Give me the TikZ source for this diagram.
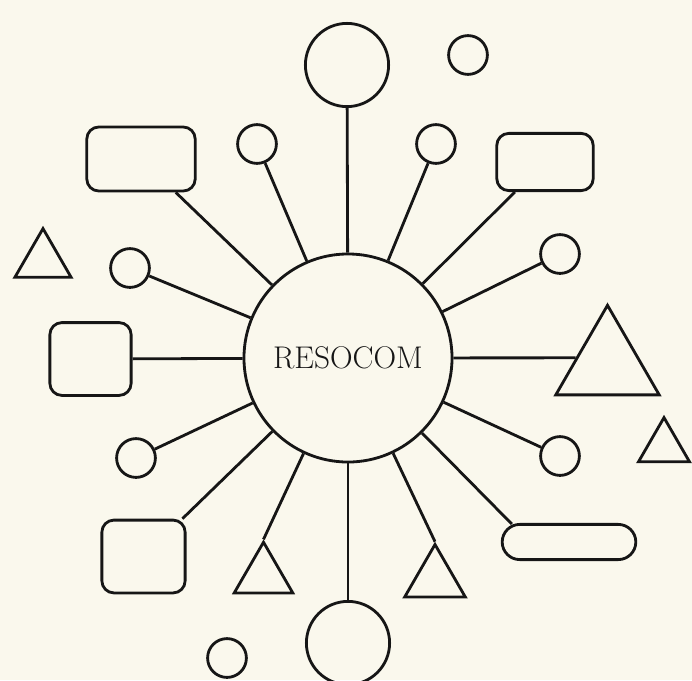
\documentclass[tikz,border=0pt]{standalone}
\usetikzlibrary{shapes.geometric,calc}

\definecolor{paper}{RGB}{250,248,237}
\definecolor{ink}{RGB}{22,22,22}

\tikzset{
    spoke/.style={draw=ink, line width=2pt},
    hubnode/.style={circle, draw=ink, line width=2pt, minimum size=5.2cm, inner sep=0pt},
    bigbubble/.style={circle, draw=ink, line width=2pt, minimum size=2.08cm, inner sep=0pt},
    smallbubble/.style={circle, draw=ink, line width=2pt, minimum size=0.97cm, inner sep=0pt},
    roundbox/.style={rectangle, draw=ink, line width=2pt, rounded corners=0.3cm, inner sep=0pt},
    pillbox/.style={rectangle, draw=ink, line width=2pt, rounded corners=0.44cm, inner sep=0pt,
        minimum width=3.34cm, minimum height=0.88cm},
    tribox/.style={regular polygon, regular polygon sides=3, draw=ink, line width=2pt,
        inner sep=0pt}
}

\begin{document}
\begin{tikzpicture}[x=0.025cm,y=-0.025cm]

% Page background
\fill[paper] (0,0) rectangle (692,680);
\useasboundingbox (0,0) rectangle (692,680);

% =====================================================
% HUB
% =====================================================
\node[hubnode, font=\fontsize{22.3}{26}\selectfont, text=ink] (hub) at (348,358) {RESOCOM};

% =====================================================
% BUBBLES
% =====================================================
\node[bigbubble] (topbubble) at (347,65) {};
\node[bigbubble] (botbubble) at (348,643) {};

\node[smallbubble] (upleft)   at (257,144) {};
\node[smallbubble] (upright)  at (436,144) {};
\node[smallbubble] (midleft)  at (130,268) {};
\node[smallbubble] (midright) at (560,254) {};
\node[smallbubble] (lowleft)  at (136,458) {};
\node[smallbubble] (lowright) at (560,456) {};

% Loose bubbles, not linked to the hub
\node[smallbubble] (looseA) at (468,55) {};
\node[smallbubble] (looseB) at (227,658) {};

% =====================================================
% BOXES
% =====================================================
\node[roundbox, minimum width=2.71cm, minimum height=1.6cm]  (boxTL) at (141,159) {};
\node[roundbox, minimum width=2.41cm, minimum height=1.43cm] (boxTR) at (545,162) {};
\node[roundbox, minimum width=2.03cm, minimum height=1.82cm] (boxL)  at (90.5,359) {};
\node[roundbox, minimum width=2.08cm, minimum height=1.82cm] (boxBL) at (143.5,556.5) {};
\node[pillbox] (pill) at (569,542) {};

% =====================================================
% TRIANGLES
% =====================================================
\node[tribox, minimum size=2.985cm] (bigtri)   at (607.5,365) {};
\node[tribox, minimum size=1.69cm]  (trilow1)  at (263.5,576) {};
\node[tribox, minimum size=1.75cm]  (trilow2)  at (435,579.5) {};

% Loose triangles
\node[tribox, minimum size=1.62cm]  (looseL) at (43,261) {};
\node[tribox, minimum size=1.47cm]  (looseR) at (664,447) {};

% =====================================================
% SPOKES
% =====================================================
\draw[spoke] (hub) -- (topbubble);
\draw[spoke] (hub) -- (upleft);
\draw[spoke] (hub) -- (boxTL);
\draw[spoke] (hub) -- (midleft);
\draw[spoke] (hub) -- (boxL);
\draw[spoke] (hub) -- (lowleft);
\draw[spoke] (hub) -- (boxBL);
\draw[spoke] (hub) -- (trilow1.corner 1);
\draw[spoke] (hub) -- (botbubble);
\draw[spoke] (hub) -- (trilow2.corner 1);
\draw[spoke] (hub) -- ($(pill.north west)+(11,1)$);
\draw[spoke] (hub) -- (lowright);
\draw[spoke] (hub) -- ($(bigtri.corner 1)!0.59!(bigtri.corner 2)$);
\draw[spoke] (hub) -- (midright);
\draw[spoke] (hub) -- (boxTR);
\draw[spoke] (hub) -- (upright);

\end{tikzpicture}
\end{document}
